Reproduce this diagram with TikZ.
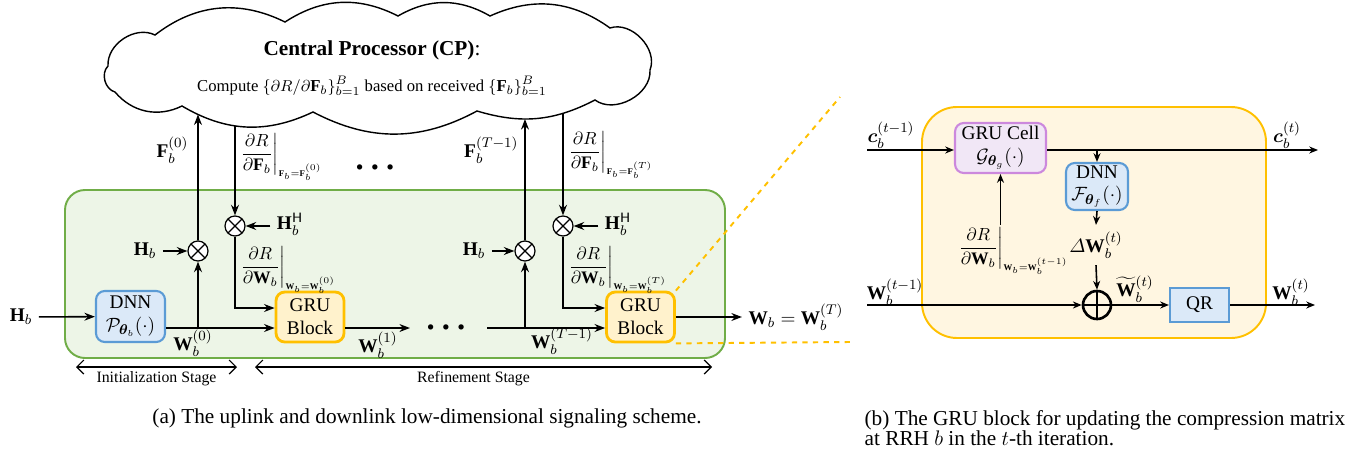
\documentclass[tikz,border=0pt]{standalone}
\usepackage{amsmath}
\usepackage{bm}
\usepackage{fontspec}
\setmainfont{Liberation Serif}
\usetikzlibrary{arrows.meta,intersections,positioning}
\definecolor{leafgreen}{RGB}{112,173,71}
\definecolor{mintwash}{RGB}{237,245,231}
\definecolor{skyblue}{RGB}{91,155,213}
\definecolor{icewash}{RGB}{219,233,248}
\definecolor{amber}{RGB}{255,192,0}
\definecolor{creamwash}{RGB}{255,242,204}
\definecolor{sandwash}{RGB}{255,246,225}
\definecolor{orchid}{RGB}{204,136,221}
\definecolor{lilacwash}{RGB}{241,231,246}
\newcommand{\evalbar}[3]{\left.\dfrac{\partial R}{\partial#1}\right|_{\scriptscriptstyle#2=#3}}

\begin{document}
\begin{tikzpicture}[x=0.02cm, y=-0.02cm, line width=0.9pt,
    >={Stealth[length=6pt,width=4.5pt]},
    font=\fontsize{11}{13}\selectfont,
    dnnbox/.style={draw=skyblue, fill=icewash, rounded corners=5pt, line width=1.2pt,
                   minimum width=1.38cm, minimum height=1.02cm, align=center, inner sep=1pt},
    grubox/.style={draw=amber, fill=creamwash, rounded corners=5pt, line width=1.6pt,
                   minimum width=1.36cm, minimum height=1.0cm, align=center, inner sep=1pt},
    cellbox/.style={draw=orchid, fill=lilacwash, rounded corners=5pt, line width=1.2pt,
                   minimum width=1.82cm, minimum height=1.0cm, align=center, inner sep=1pt},
    qrbox/.style={draw=skyblue, fill=icewash, line width=1.2pt,
                   minimum width=1.18cm, minimum height=0.68cm, inner sep=1pt},
    mult/.style={circle, draw, fill=white, minimum size=0.4cm, inner sep=0pt, line width=0.7pt,
                 path picture={\draw[line width=0.7pt]
                   (path picture bounding box.north west) -- (path picture bounding box.south east)
                   (path picture bounding box.north east) -- (path picture bounding box.south west);}},
    addop/.style={circle, draw, minimum size=0.56cm, inner sep=0pt, line width=1.5pt,
                 path picture={\draw[line width=1.5pt]
                   (path picture bounding box.north) -- (path picture bounding box.south)
                   (path picture bounding box.west) -- (path picture bounding box.east);}},
    gradlbl/.style={anchor=west, font=\fontsize{10}{12}\selectfont, inner sep=1pt},
    dotrow/.style={font=\fontsize{7}{7}\selectfont, inner sep=0pt},
    stage/.style={{Straight Barb[length=4pt]}-{Straight Barb[length=4pt]}, line width=0.7pt},
    stagelbl/.style={font=\fontsize{9}{11}\selectfont, below, inner sep=2pt},
    caption/.style={font=\fontsize{12.1}{11.4}\selectfont},
    zoomline/.style={draw=amber, dashed, line width=1.1pt}]
\useasboundingbox (0,0) rectangle (1351,453);

\filldraw[draw=leafgreen, fill=mintwash, rounded corners=0.4cm, line width=1.1pt] (65,190) rectangle (725,358);
\draw[name path=cloudedge, fill=white, line width=0.8pt]
    (108,66) to[bend left=60] (155,35) to[bend left=32] (285,22) to[bend left=30] (398,16)
    to[bend left=30] (490,16) to[bend left=30] (610,28) to[bend left=65] (650,70)
    to[bend left=65] (595,100) to[bend left=22] (477,111) to[bend left=28] (313,112)
    to[bend left=28] (182,106) to[bend left=38] (115,92) to[bend left=60] (108,66) -- cycle;
\node[font=\bfseries\fontsize{12.1}{15}\selectfont] (cptitle) at (372,50) {Central Processor (CP)\textmd{:}};
\node[font=\fontsize{9.5}{12}\selectfont] (cptext) at (372,86) {Compute $\{\partial R/\partial\mathbf{F}_b\}_{b=1}^{B}$ based on received $\{\mathbf{F}_b\}_{b=1}^{B}$};

\path[name path=probe0] (198,90) -- (198,200);
\path[name path=probe1] (235,90) -- (235,200);
\path[name path=probe2] (525,90) -- (525,200);
\path[name path=probe3] (563,90) -- (563,200);
\path[name intersections={of=cloudedge and probe0, by=up0}];
\path[name intersections={of=cloudedge and probe1, by=dn0}];
\path[name intersections={of=cloudedge and probe2, by=up1}];
\path[name intersections={of=cloudedge and probe3, by=dn1}];

\node (hin)  at (21,317)    {$\mathbf{H}_b$};
\node[dnnbox] (dnn)  at (130.5,316.5) {DNN\\$\mathcal{P}_{\bm{\theta}_b}(\cdot)$};
\node[grubox] (gru1) at (310,317)     {GRU\\Block};
\node[grubox] (gru2) at (640.5,317)   {GRU\\Block};
\node[mult] (m1) at (198,251) {};
\node[mult] (m2) at (235,226) {};
\node[mult] (m3) at (525,251) {};
\node[mult] (m4) at (563,226) {};
\node (hb1) at (145,251) {$\mathbf{H}_b$};
\node (hh1) at (290,224) {$\mathbf{H}_b^{\mathsf{H}}$};
\node (hb2) at (474,251) {$\mathbf{H}_b$};
\node (hh2) at (618,224) {$\mathbf{H}_b^{\mathsf{H}}$};
\node (wout) at (796,317) {$\mathbf{W}_b=\mathbf{W}_b^{(T)}$};
\node[dotrow] (dotsmid) at (446,328) {$\bullet\,\,\bullet\,\,\bullet$};
\node[dotrow] (dotstop) at (375,168) {$\bullet\,\,\bullet\,\,\bullet$};

\coordinate (j0)  at (198,328);
\coordinate (j1)  at (525,328);
\coordinate (w1e) at (410,328);
\coordinate (w2s) at (487,328);

\node[anchor=east] (f0)  at (195,150) {$\mathbf{F}_b^{(0)}$};
\node[anchor=east] (f1)  at (525,150) {$\mathbf{F}_b^{(T-1)}$};
\node[gradlbl] (drf0) at (236,157) {$\evalbar{\mathbf{F}_b}{\mathbf{F}_b}{\mathbf{F}_b^{(0)}}$};
\node[gradlbl] (drf1) at (564,155) {$\evalbar{\mathbf{F}_b}{\mathbf{F}_b}{\mathbf{F}_b^{(T)}}$};
\node[gradlbl] (drw0) at (236,270) {$\evalbar{\mathbf{W}_b}{\mathbf{W}_b}{\mathbf{W}_b^{(0)}}$};
\node[gradlbl] (drw1) at (564,270) {$\evalbar{\mathbf{W}_b}{\mathbf{W}_b}{\mathbf{W}_b^{(T)}}$};
\node (w0) at (193,343) {$\mathbf{W}_b^{(0)}$};
\node (w1) at (378,345) {$\mathbf{W}_b^{(1)}$};
\node (wt) at (562,341) {$\mathbf{W}_b^{(T-1)}$};

\draw[->] (hin) -- (dnn);
\draw (dnn.east |- j0) -- (j0);
\draw[->] (j0) -- (gru1.west |- j0);
\draw[->] (j0) -- (m1);
\draw[->] (m1) -- (up0);
\draw[->] (hb1) -- (m1);
\draw[->] (dn0) -- (m2);
\draw[->] (hh1.west |- m2) -- (m2);
\draw[->] (m2) |- ([yshift=0.18cm]gru1.west);
\draw[->] (gru1.east |- j0) -- (w1e);
\draw (w2s) -- (j1);
\draw[->] (j1) -- (gru2.west |- j1);
\draw[->] (j1) -- (m3);
\draw[->] (m3) -- (up1);
\draw[->] (hb2) -- (m3);
\draw[->] (dn1) -- (m4);
\draw[->] (hh2.west |- m4) -- (m4);
\draw[->] (m4) |- ([yshift=0.18cm]gru2.west);
\draw[->] (gru2) -- (wout);

\coordinate (is0) at (76,367);
\coordinate (is1) at (237,367);
\coordinate (rs0) at (255,367);
\coordinate (rs1) at (712,367);
\draw[stage] (is0) -- (is1) node[stagelbl, midway] (initlbl) {Initialization Stage};
\draw[stage] (rs0) -- (rs1) node[stagelbl, pos=0.478] (reflbl) {Refinement Stage};

\coordinate (zt) at (840,97);
\coordinate (zb) at (850,342);
\draw[zoomline] (gru2.north east) -- (zt);
\draw[zoomline] (gru2.south east) -- (zb);

\filldraw[draw=amber, fill=sandwash, rounded corners=0.7cm, line width=1.1pt] (922,107) rectangle (1266,338);
\node[cellbox] (gcell) at (1000.5,148)  {GRU Cell\\$\mathcal{G}_{\bm{\theta}_g}(\cdot)$};
\node[dnnbox, minimum width=1.24cm, minimum height=0.94cm] (dnnf) at (1097,186.5) {DNN\\$\mathcal{F}_{\bm{\theta}_f}(\cdot)$};
\node[qrbox] (qr) at (1199.5,305) {QR};
\node[addop] (add) at (1097,305) {};
\node (dw) at (1096,245) {$\varDelta\mathbf{W}_b^{(t)}$};
\node[gradlbl] (drwt) at (954,251) {$\evalbar{\mathbf{W}_b}{\mathbf{W}_b}{\mathbf{W}_b^{(t-1)}}$};
\node (cprev) at (891,135)  {$\bm{c}_b^{(t-1)}$};
\node (cnext) at (1287,135) {$\bm{c}_b^{(t)}$};
\node (wprev) at (895,292)  {$\mathbf{W}_b^{(t-1)}$};
\node (wtil)  at (1135,289) {$\widetilde{\mathbf{W}}_b^{(t)}$};
\node (wnext) at (1291,292) {$\mathbf{W}_b^{(t)}$};

\coordinate (cin)  at (867,150);
\coordinate (cout) at (1318,150);
\coordinate (jc)   at (1097,150);
\coordinate (win)  at (867,305);
\coordinate (wfin) at (1315,305);

\begin{scope}[>={Stealth[length=5pt,width=4pt]}]
\draw[->] (cin) -- (gcell.west |- cin);
\draw[->] (gcell.east |- cin) -- (cout);
\draw[->] (jc) -- (dnnf.north);
\draw[->] (dnnf.south) -- (dw.north);
\draw[->] (dw.south) -- (add.north);
\draw[->] (win) -- (add.west);
\draw[->] (add.east) -- (qr.west);
\draw[->] (qr.east) -- (wfin);
\draw[->] (gcell.south |- drwt.north) -- (gcell.south);
\end{scope}

\node[caption] (capa) at (427,418) {(a) The uplink and downlink low-dimensional signaling scheme.};
\node[caption, anchor=west, align=left] (capb) at (858,428) {(b) The GRU block for updating the compression matrix\\at RRH $b$ in the $t$-th iteration.};
\end{tikzpicture}
\end{document}
